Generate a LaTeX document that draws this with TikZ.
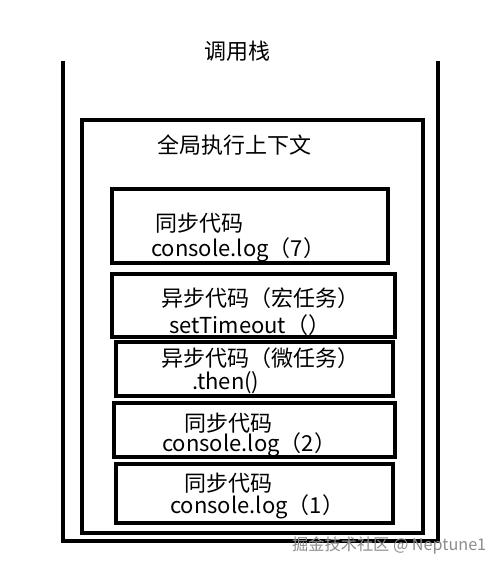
\documentclass[tikz,border=0pt]{standalone}
\usepackage{fontspec}
\setmainfont{Noto Sans CJK SC}
\newfontfamily\cjk{Noto Sans CJK SC}
\begin{document}
\begin{tikzpicture}[x=1pt,y=-1pt,
  stackline/.style={line width=4pt},
  framebox/.style={draw, line width=4pt, rectangle, inner sep=0pt},
  codebox/.style={draw, line width=3.6pt, rectangle, inner sep=0pt},
  lbl/.style={inner sep=0pt, font=\cjk\fontsize{22}{25}\selectfont},
  wm/.style={inner sep=0pt, text=black!45, font=\cjk\fontsize{16.2}{19}\selectfont}]
\useasboundingbox (0,0) rectangle (501,569);
% open-top stack
\coordinate (sTL) at (63,61);
\coordinate (sBL) at (63,541);
\coordinate (sBR) at (438,541);
\coordinate (sTR) at (438,61);
\draw[stackline] (sTL) -- (sBL) -- (sBR) -- (sTR);
\node[lbl] (title) at (237,51) {调用栈};
% global execution context frame
\node[framebox, minimum width=341pt, minimum height=412.5pt] (frame) at (252,326.75) {};
\node[lbl] (ctx) at (234.5,145) {全局执行上下文};
% code boxes
\node[codebox, minimum width=276pt, minimum height=74pt] (b1) at (250,226) {};
\node[codebox, minimum width=283pt, minimum height=63pt] (b2) at (253.5,305.5) {};
\node[codebox, minimum width=277pt, minimum height=54pt] (b3) at (254.5,369) {};
\node[codebox, minimum width=281pt, minimum height=54pt] (b4) at (254.5,430) {};
\node[codebox, minimum width=277pt, minimum height=59pt] (b5) at (254.5,493.5) {};
% texts
\node[lbl, anchor=west] (t1a) at (155,223) {同步代码};
\node[lbl, anchor=west] (t1b) at (151,250) {console.log（7）};
\node[lbl, anchor=west] (t2a) at (161,298) {异步代码（宏任务）};
\node[lbl, anchor=west] (t2b) at (169,325) {setTimeout（）};
\node[lbl, anchor=west] (t3a) at (161,358) {异步代码（微任务）};
\node[lbl, anchor=west] (t3b) at (192,383) {.then()};
\node[lbl, anchor=west] (t4a) at (184,423) {同步代码};
\node[lbl, anchor=west] (t4b) at (162,445) {console.log（2）};
\node[lbl, anchor=west] (t5a) at (184,483) {同步代码};
\node[lbl, anchor=west] (t5b) at (170,507) {console.log（1）};
% watermark
\node[wm, anchor=west] (wmark) at (292,545) {掘金技术社区 @ Neptune1};
\end{tikzpicture}
\end{document}
